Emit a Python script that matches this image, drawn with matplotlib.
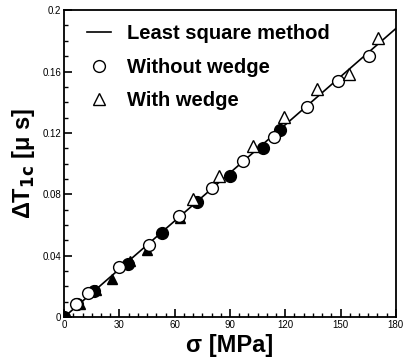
import numpy as np
import matplotlib.pyplot as plt
from matplotlib.ticker import MultipleLocator

# least square fit line
fit_x = [0, 180]
fit_y = [0, 0.188]

# without wedge (open / filled circles)
open_circ_x = [6.5, 12.7, 29.5, 46.1, 62.4, 80.4, 96.9, 113.9, 131.9, 148.4, 165.2]
open_circ_y = [0.0085, 0.0154, 0.0328, 0.0473, 0.0658, 0.0843, 0.1016, 0.1175, 0.1366, 0.1537, 0.170]
fill_circ_x = [0, 7.2, 16.3, 34.9, 53.0, 72.0, 90.0, 108.1, 117.1]
fill_circ_y = [0, 0.0085, 0.0171, 0.0343, 0.0545, 0.0751, 0.092, 0.1103, 0.1218]

# with wedge (open / filled triangles)
open_tri_x = [69.8, 84.2, 102.7, 119.3, 137.0, 154.6, 170.1]
open_tri_y = [0.0769, 0.092, 0.1116, 0.1305, 0.1483, 0.1583, 0.182]
fill_tri_x = [8.5, 17.5, 25.9, 35.5, 44.8, 62.9]
fill_tri_y = [0.0085, 0.0175, 0.0246, 0.0365, 0.0436, 0.0643]

x_ticks = [0, 30, 60, 90, 120, 150, 180]
y_ticks = [0, 0.04, 0.08, 0.12, 0.16, 0.2]
y_ticklabels = ['0', '0.04', '0.08', '0.12', '0.16', '0.2']

plt.rcParams['font.family'] = ['Liberation Sans', 'DejaVu Sans']

fig = plt.figure(figsize=(4.06, 3.62), dpi=100)
ax = fig.add_axes([0.158, 0.124, 0.817, 0.848])

ax.plot(fit_x, fit_y, color='black', lw=1.2, label='Least square method', zorder=2)
ax.plot(fill_tri_x, fill_tri_y, '^', color='black', ms=7, ls='none', zorder=3)
ax.plot(fill_circ_x, fill_circ_y, 'o', color='black', ms=8.5, ls='none', zorder=3)
ax.plot(open_circ_x, open_circ_y, 'o', mfc='white', mec='black', mew=1.0, ms=8.5,
        ls='none', label='Without wedge', zorder=4)
ax.plot(open_tri_x, open_tri_y, '^', mfc='white', mec='black', mew=1.0, ms=8,
        ls='none', label='With wedge', zorder=4)

ax.set_xlim(0, 180)
ax.set_ylim(0, 0.2)
ax.set_xticks(x_ticks)
ax.set_xticklabels([str(v) for v in x_ticks])
ax.xaxis.set_minor_locator(MultipleLocator(5))
ax.set_yticks(y_ticks)
ax.set_yticklabels(y_ticklabels)
ax.yaxis.set_minor_locator(MultipleLocator(0.01))
ax.tick_params(which='major', direction='in', length=6, width=1.2, labelsize=7, pad=2)
ax.tick_params(which='minor', direction='in', length=3, width=1.0)
ax.tick_params(top=False, right=False)
for sp in ax.spines.values():
    sp.set_linewidth(1.3)

ax.set_xlabel('σ [MPa]', fontsize=17, fontweight='bold', labelpad=3)
ax.set_ylabel('ΔT$_{\\mathbf{1c}}$ [μ s]', fontsize=17, fontweight='bold', labelpad=4)

leg = ax.legend(loc='upper left', frameon=False, fontsize=14.5, handlelength=1.2,
                handletextpad=0.8, labelspacing=0.72, borderaxespad=0.3,
                bbox_to_anchor=(0.027, 1.0))
for t in leg.get_texts():
    t.set_fontweight('bold')

fig.savefig('out.png', dpi=100)
